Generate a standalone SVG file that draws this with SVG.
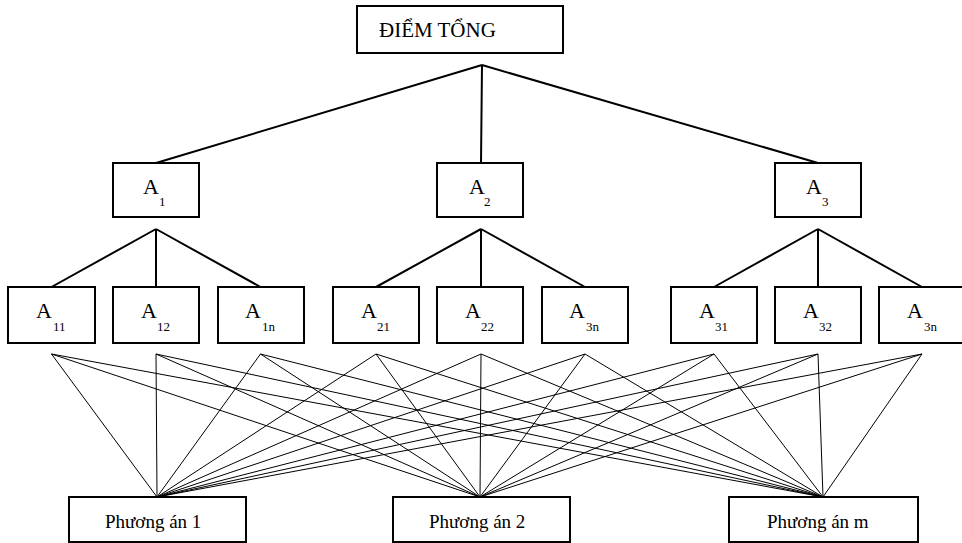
<svg xmlns="http://www.w3.org/2000/svg" width="962" height="543" viewBox="0 0 962 543">
<style>
.box{fill:#fff;stroke:#000;stroke-width:2}
.t{font-family:"Liberation Serif","Times New Roman",serif;fill:#000}
.big{font-size:21px}
.p{font-size:19px}
.a{font-size:22px}
.sub{font-size:13px}
.tree{stroke:#000;stroke-width:2;fill:none}
.thin{stroke:#000;stroke-width:1;fill:none}
</style>
<rect width="962" height="543" fill="#fff"/>
<g id="connectors">
<g class="tree">
<path d="M482 65 L156 163 M482 65 L481 163 M482 65 L818 163"/>
<path d="M156 229 L51.5 287 M156 229 L156 287 M156 229 L260.5 287"/>
<path d="M481 229 L376 287 M481 229 L481 287 M481 229 L585 287"/>
<path d="M818 229 L714 287 M818 229 L818 287 M818 229 L922 287"/>
</g>
<g class="thin">
<path d="M51.5 354 L157 497 M51.5 354 L480 497 M51.5 354 L823 497"/>
<path d="M156 354 L157 497 M156 354 L480 497 M156 354 L823 497"/>
<path d="M260.5 354 L157 497 M260.5 354 L480 497 M260.5 354 L823 497"/>
<path d="M376 354 L157 497 M376 354 L480 497 M376 354 L823 497"/>
<path d="M481 354 L157 497 M481 354 L480 497 M481 354 L823 497"/>
<path d="M585 354 L157 497 M585 354 L480 497 M585 354 L823 497"/>
<path d="M714 354 L157 497 M714 354 L480 497 M714 354 L823 497"/>
<path d="M818 354 L157 497 M818 354 L480 497 M818 354 L823 497"/>
<path d="M922 354 L157 497 M922 354 L480 497 M922 354 L823 497"/>
</g>
</g>
<g id="root"><rect class="box" x="357" y="6" width="206" height="47"/><text class="t big" x="379" y="37">ĐIỂM TỔNG</text></g>
<g id="A1"><rect class="box" x="113" y="163" width="86" height="54"/><text class="t a" x="143" y="194">A<tspan class="sub" x="159" y="206">1</tspan></text></g>
<g id="A2"><rect class="box" x="437" y="163" width="86" height="54"/><text class="t a" x="469" y="194">A<tspan class="sub" x="484" y="206">2</tspan></text></g>
<g id="A3"><rect class="box" x="775" y="163" width="86" height="54"/><text class="t a" x="806" y="194">A<tspan class="sub" x="822" y="206">3</tspan></text></g>
<g id="A11"><rect class="box" x="8" y="287" width="87" height="56"/><text class="t a" x="36" y="318">A<tspan class="sub" x="53" y="331">11</tspan></text></g>
<g id="A12"><rect class="box" x="113" y="287" width="86" height="56"/><text class="t a" x="141" y="318">A<tspan class="sub" x="157" y="331">12</tspan></text></g>
<g id="A1n"><rect class="box" x="218" y="287" width="86" height="56"/><text class="t a" x="245" y="318">A<tspan class="sub" x="262" y="331">1n</tspan></text></g>
<g id="A21"><rect class="box" x="333" y="287" width="86" height="56"/><text class="t a" x="361" y="318">A<tspan class="sub" x="377" y="331">21</tspan></text></g>
<g id="A22"><rect class="box" x="437" y="287" width="86" height="56"/><text class="t a" x="465" y="318">A<tspan class="sub" x="481" y="331">22</tspan></text></g>
<g id="A3n_a"><rect class="box" x="542" y="287" width="86" height="56"/><text class="t a" x="569" y="318">A<tspan class="sub" x="586" y="331">3n</tspan></text></g>
<g id="A31"><rect class="box" x="671" y="287" width="86" height="56"/><text class="t a" x="699" y="318">A<tspan class="sub" x="715" y="331">31</tspan></text></g>
<g id="A32"><rect class="box" x="775" y="287" width="86" height="56"/><text class="t a" x="803" y="318">A<tspan class="sub" x="819" y="331">32</tspan></text></g>
<g id="A3n_b"><rect class="box" x="879" y="287" width="86" height="56"/><text class="t a" x="907" y="318">A<tspan class="sub" x="924" y="331">3n</tspan></text></g>
<g id="P1"><rect class="box" x="69" y="497" width="177" height="45"/><text class="t p" x="105" y="528">Phương án 1</text></g>
<g id="P2"><rect class="box" x="393" y="497" width="177" height="45"/><text class="t p" x="429" y="528">Phương án 2</text></g>
<g id="Pm"><rect class="box" x="729" y="497" width="189" height="45"/><text class="t p" x="767" y="528">Phương án m</text></g>
</svg>
